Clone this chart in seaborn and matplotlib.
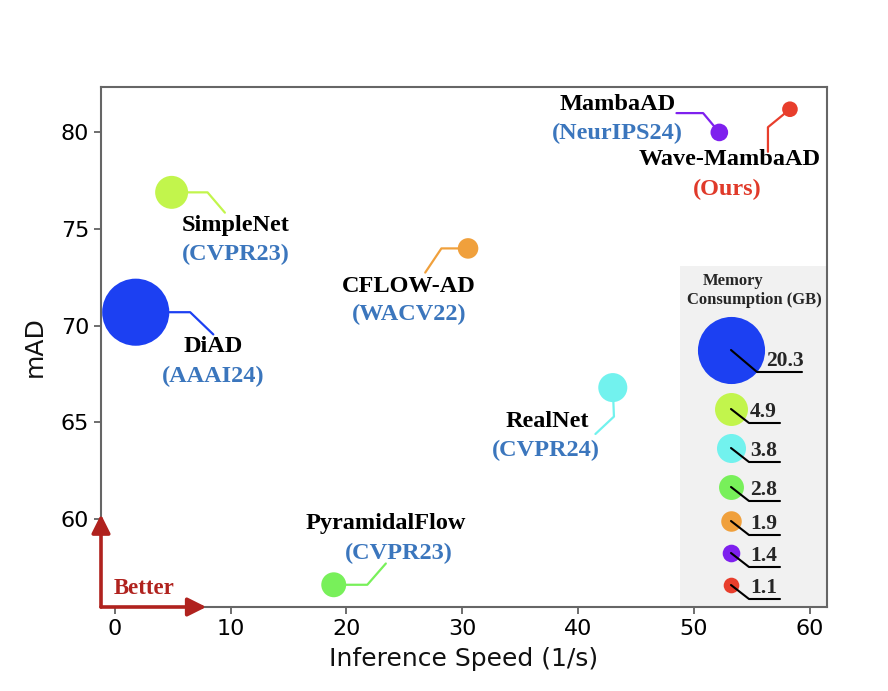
import pandas as pd
import seaborn as sns
import matplotlib.pyplot as plt
from matplotlib.patches import Rectangle

# --- data ---
models = ['DiAD', 'SimpleNet', 'CFLOW-AD', 'RealNet', 'PyramidalFlow', 'MambaAD', 'Wave-MambaAD']
venues = ['(AAAI24)', '(CVPR23)', '(WACV22)', '(CVPR24)', '(CVPR23)', '(NeurIPS24)', '(Ours)']
speed = [1.8, 4.9, 30.5, 43.0, 18.9, 52.2, 58.3]
mad = [70.7, 76.9, 74.0, 66.8, 56.6, 80.0, 81.2]
memory = [20.3, 4.9, 1.9, 3.8, 2.8, 1.4, 1.1]
colors = ['#1c40f2', '#c2f54c', '#f0a03c', '#72f2ee', '#78f05a', '#7e20ee', '#e83e2c']

legend_mem = [20.3, 4.9, 3.8, 2.8, 1.9, 1.4, 1.1]
legend_colors = ['#1c40f2', '#c2f54c', '#72f2ee', '#78f05a', '#f0a03c', '#7e20ee', '#e83e2c']

df = pd.DataFrame({'model': models, 'speed': speed, 'mAD': mad, 'memory': memory})
palette = dict(zip(models, colors))

K = 115  # marker area per GB
SERIF = 'Liberation Serif'
BLUE = '#3b76bd'
DARKRED = '#b0221e'

sns.set_theme(style="ticks")
fig = plt.figure(figsize=(8.88, 6.91), dpi=100)
ax = fig.add_axes([101 / 888, 1 - 607 / 691, 726 / 888, 520 / 691])

sns.scatterplot(
    data=df, x='speed', y='mAD', hue='model', size='memory',
    sizes=(K * min(memory), K * max(memory)), palette=palette,
    linewidth=0, legend=False, ax=ax, zorder=3
)

ax.set_xlim(-1.2, 61.5)
ax.set_ylim(55.45, 82.35)
ax.set_xticks([0, 10, 20, 30, 40, 50, 60])
ax.set_yticks([60, 65, 70, 75, 80])
ax.tick_params(labelsize=16, length=5, width=1.2, color='#555555', labelcolor='black')
ax.set_xlabel('Inference Speed (1/s)', fontsize=18, labelpad=6, color='#111111')
ax.set_ylabel('mAD', fontsize=18, labelpad=10, color='#111111')
for s in ax.spines.values():
    s.set_color('#666666')
    s.set_linewidth(1.5)

# --- leader lines ---
leaders = {
    'SimpleNet': ([4.9, 8.0, 9.5], [76.9, 76.9, 75.85]),
    'DiAD': ([1.8, 6.5, 8.5], [70.7, 70.7, 69.55]),
    'CFLOW-AD': ([30.5, 28.2, 26.8], [74.0, 74.0, 72.75]),
    'RealNet': ([43.0, 43.1, 41.5], [66.8, 65.3, 64.4]),
    'PyramidalFlow': ([18.9, 21.8, 23.4], [56.6, 56.6, 57.7]),
    'MambaAD': ([48.5, 50.8, 52.2], [81.0, 81.0, 80.0]),
    'Wave-MambaAD': ([58.3, 56.4, 56.4], [81.2, 80.27, 79.0]),
}
for m, (lx, ly) in leaders.items():
    ax.plot(lx, ly, color=palette[m], lw=1.6, zorder=2)

# --- labels: (name x, name y, venue x, venue y) ---
label_pos = {
    'DiAD': (8.5, 68.92, 8.5, 67.37),
    'SimpleNet': (10.45, 75.2, 10.45, 73.7),
    'CFLOW-AD': (25.4, 72.02, 25.4, 70.56),
    'RealNet': (37.3, 65.04, 37.2, 63.57),
    'PyramidalFlow': (23.4, 59.78, 24.55, 58.23),
    'MambaAD': (43.4, 81.42, 43.4, 79.96),
    'Wave-MambaAD': (53.05, 78.58, 52.9, 77.03),
}
for m, v in zip(models, venues):
    nx, ny, vx, vy = label_pos[m]
    ax.text(nx, ny, m, ha='center', va='center', fontsize=17.5,
            fontweight='bold', family=SERIF, color='black')
    ax.text(vx, vy, v, ha='center', va='center', fontsize=17.5,
            fontweight='bold', family=SERIF,
            color='#e03a2a' if v == '(Ours)' else BLUE)

# --- "Better" arrows ---
arrow = dict(arrowstyle='-|>', mutation_scale=28, lw=2.6, color=DARKRED,
             shrinkA=0, shrinkB=0)
ax.annotate('', xy=(0.145, 0), xytext=(0, 0), xycoords='axes fraction',
            arrowprops=arrow, annotation_clip=False, zorder=5)
ax.annotate('', xy=(0, 0.178), xytext=(0, 0), xycoords='axes fraction',
            arrowprops=arrow, annotation_clip=False, zorder=5)
ax.text(0.017, 0.035, 'Better', transform=ax.transAxes, fontsize=16.5,
        fontweight='bold', family=SERIF, color=DARKRED, va='center', ha='left')

# --- memory legend box ---
fx = lambda px: (px - 101) / 726
fy = lambda py: (607 - py) / 520
ax.add_patch(Rectangle((fx(680), 0), 1 - fx(680), fy(266), transform=ax.transAxes,
                       facecolor='#f1f1f1', edgecolor='none', zorder=1))
ax.text(fx(733), fy(281), 'Memory', transform=ax.transAxes, ha='center', va='center',
        fontsize=12, fontweight='bold', family=SERIF)
ax.text(fx(754), fy(300), 'Consumption (GB)', transform=ax.transAxes, ha='center',
        va='center', fontsize=12, fontweight='bold', family=SERIF)

leg_y = [350, 409, 448, 487, 521, 553, 585]
for i, (mem, c, py) in enumerate(zip(legend_mem, legend_colors, leg_y)):
    ax.scatter([fx(731)], [fy(py)], s=K * mem, color=c, linewidth=0,
               transform=ax.transAxes, zorder=3, clip_on=False)
    if i == 0:
        dx, dy, ux, tx = 26, 22, 71, 766
    else:
        dx, dy, ux, tx = 18, 14, 49, 750
    ax.plot([fx(731), fx(731 + dx), fx(731 + ux)], [fy(py), fy(py + dy), fy(py + dy)],
            color='black', lw=1.5, transform=ax.transAxes, zorder=4)
    ax.text(fx(tx), fy(py + dy - 1), f'{mem}', transform=ax.transAxes, ha='left',
            va='bottom', fontsize=15.5, fontweight='bold', family=SERIF, zorder=4)

fig.savefig('out.png', dpi=100)
